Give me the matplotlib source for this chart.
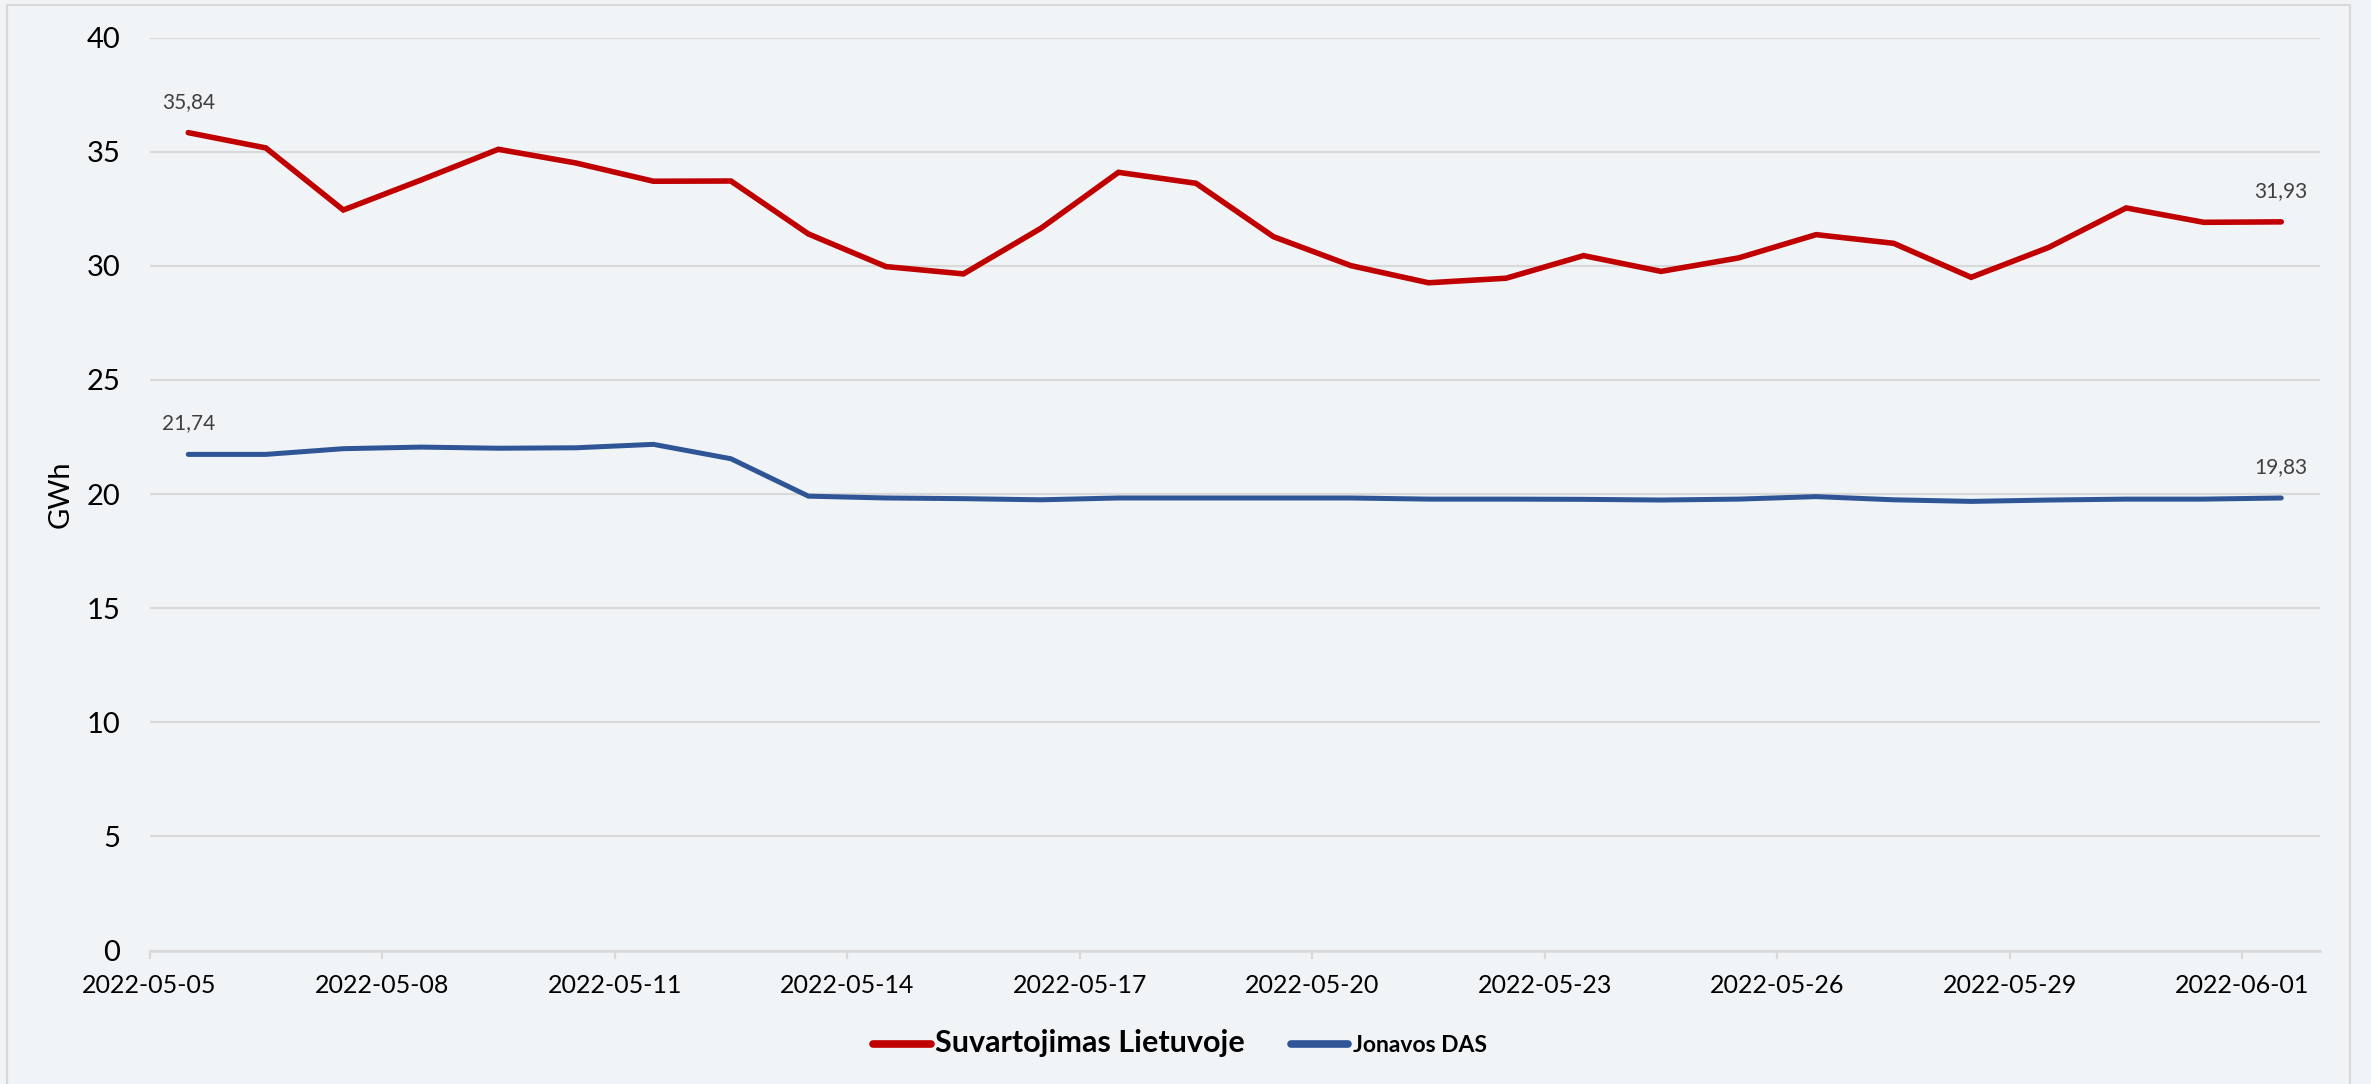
import matplotlib
matplotlib.use("Agg")
import matplotlib.pyplot as plt
import matplotlib.dates as mdates
from matplotlib.patches import Rectangle
import numpy as np

# --- duomenys (GWh per para) ---
dates = np.arange(np.datetime64("2022-05-05"), np.datetime64("2022-06-02"))
suvartojimas = [35.84, 35.17, 32.45, 33.76, 35.11, 34.51, 33.71, 33.72,
                31.40, 29.97, 29.65, 31.65, 34.10, 33.62, 31.28, 30.01,
                29.26, 29.46, 30.45, 29.76, 30.35, 31.37, 30.99, 29.50,
                30.81, 32.54, 31.91, 31.93]
jonavos = [21.74, 21.74, 21.99, 22.06, 22.01, 22.03, 22.18, 21.55,
           19.91, 19.83, 19.80, 19.75, 19.83, 19.83, 19.83, 19.83,
           19.78, 19.78, 19.77, 19.74, 19.78, 19.89, 19.75, 19.68,
           19.74, 19.78, 19.78, 19.83]
series_names = ["Suvartojimas Lietuvoje", "Jonavos DAS"]
yticks = [0, 5, 10, 15, 20, 25, 30, 35, 40]

BG = "#f0f4f7"
GRID = "#d9d9d9"
RED = "#c00000"
BLUE = "#2f5597"

plt.rcParams["font.family"] = ["Lato", "DejaVu Sans"]

W, H = 2371, 1084
fig = plt.figure(figsize=(W / 100, H / 100), dpi=100, facecolor=BG)

# remelis aplink diagrama
fig.patches.append(Rectangle((7 / W, -0.05), (2350 - 7) / W, 1.05 - 5 / H,
                             transform=fig.transFigure, fill=False,
                             edgecolor=GRID, lw=1.6))

ax = fig.add_axes([149.5 / W, 1 - 950.5 / H, (2320 - 149.5) / W, (950.5 - 37.7) / H])
ax.set_facecolor(BG)

# taskai per vidurdieni (kategoriju viduryje)
x = dates.astype("datetime64[h]") + np.timedelta64(12, "h")
ax.plot(x, suvartojimas, color=RED, lw=4.0, solid_capstyle="round",
        solid_joinstyle="miter", label=series_names[0], zorder=3)
ax.plot(x, jonavos, color=BLUE, lw=3.6, solid_capstyle="round",
        solid_joinstyle="miter", label=series_names[1], zorder=3)

for ser in (suvartojimas, jonavos):
    for i in (0, len(ser) - 1):
        ax.annotate(f"{ser[i]:.2f}".replace(".", ","), (x[i], ser[i]),
                    xytext=(0, 31), textcoords="offset pixels",
                    ha="center", va="center", fontsize=15, color="#404040")

ax.set_xlim(dates[0], dates[-1] + np.timedelta64(1, "D"))
ax.set_ylim(0, 40)
ax.set_yticks(yticks)
ax.set_xticks(dates[::3])
ax.xaxis.set_major_formatter(mdates.DateFormatter("%Y-%m-%d"))

ax.grid(axis="y", color=GRID, lw=1.6)
ax.set_axisbelow(True)
for s in ("top", "right", "left"):
    ax.spines[s].set_visible(False)
ax.spines["bottom"].set_color(GRID)
ax.spines["bottom"].set_linewidth(1.8)

ax.tick_params(axis="y", length=0, pad=21, labelsize=21, labelcolor="#000000")
ax.tick_params(axis="x", direction="out", length=6, width=1.6, color=GRID,
               pad=11, labelsize=18, labelcolor="#000000")

ax.set_ylabel("GWh", fontsize=21)
ax.yaxis.set_label_coords((74 - 149.5) / (2320 - 149.5), 0.5)

leg = fig.legend(loc="center", bbox_to_anchor=(1180 / W, 1 - 1043 / H), ncol=2,
                 frameon=False, handlelength=2.5, handletextpad=0.2,
                 columnspacing=2.0, prop={"weight": "bold", "size": 16.5})
leg.get_texts()[0].set_fontsize(22)
for h in leg.get_lines():
    h.set_linewidth(5.5)

fig.savefig("out.png", dpi=100, facecolor=BG)
